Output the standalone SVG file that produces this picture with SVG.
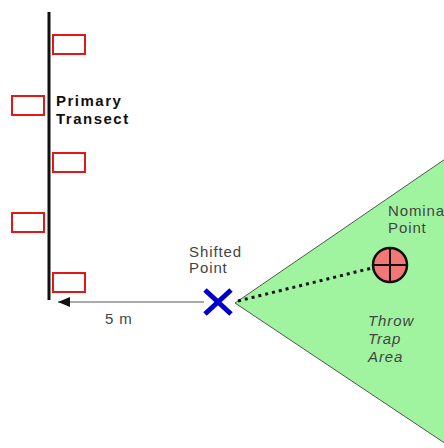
<svg xmlns="http://www.w3.org/2000/svg" width="444" height="448" viewBox="0 0 444 448">
<defs>
<style>
.t{font-family:"Liberation Sans",Arial,sans-serif;font-size:15px;fill:#444;letter-spacing:0.9px}
.b{font-weight:bold;fill:#111;letter-spacing:1.5px}
.i{font-style:italic}
.trap{fill:#fff;stroke:#e01818;stroke-width:2}
</style>
<marker id="ah" markerWidth="12" markerHeight="10" refX="12" refY="5" orient="auto" markerUnits="userSpaceOnUse">
<path d="M0,0 L12,5 L0,10 Z" fill="#111"/>
</marker>
</defs>
<rect width="444" height="448" fill="#fff"/>
<g id="throw-trap-area">
<path d="M235,303 L470,142 L470,460 Z" fill="#a0f4a0" stroke="#555" stroke-width="1"/>
<text class="t i" x="368" y="326">Throw</text>
<text class="t i" x="368" y="344">Trap</text>
<text class="t i" x="368" y="362">Area</text>
</g>
<g id="transect">
<line x1="49" y1="12" x2="49" y2="300" stroke="#111" stroke-width="3"/>
<text class="t b" x="56" y="106">Primary</text>
<text class="t b" x="56" y="124">Transect</text>
</g>
<g id="trap1"><rect class="trap" x="53" y="35" width="32" height="19"/></g>
<g id="trap2"><rect class="trap" x="12" y="96" width="32" height="19"/></g>
<g id="trap3"><rect class="trap" x="53" y="153" width="32" height="19"/></g>
<g id="trap4"><rect class="trap" x="12" y="213" width="32" height="19"/></g>
<g id="trap5"><rect class="trap" x="53" y="273" width="32" height="19"/></g>
<g id="connectors">
<line x1="204" y1="302" x2="58" y2="302" stroke="#aaa" stroke-width="2" marker-end="url(#ah)"/>
<text class="t" x="105" y="324">5 m</text>
<line x1="238" y1="301" x2="372" y2="268" stroke="#111" stroke-width="3" stroke-dasharray="3 4"/>
</g>
<g id="shifted-point">
<path d="M205,290 L231,314 M231,290 L205,314" stroke="#0000cc" stroke-width="5"/>
<text class="t" x="189" y="257">Shifted</text>
<text class="t" x="189" y="273">Point</text>
</g>
<g id="nominal-point">
<circle cx="390" cy="265" r="17" fill="#f27878" stroke="#111" stroke-width="2.5"/>
<path d="M390,248 V282 M373,265 H407" stroke="#111" stroke-width="2"/>
<text class="t" x="388" y="216">Nominal</text>
<text class="t" x="388" y="233">Point</text>
</g>
</svg>
